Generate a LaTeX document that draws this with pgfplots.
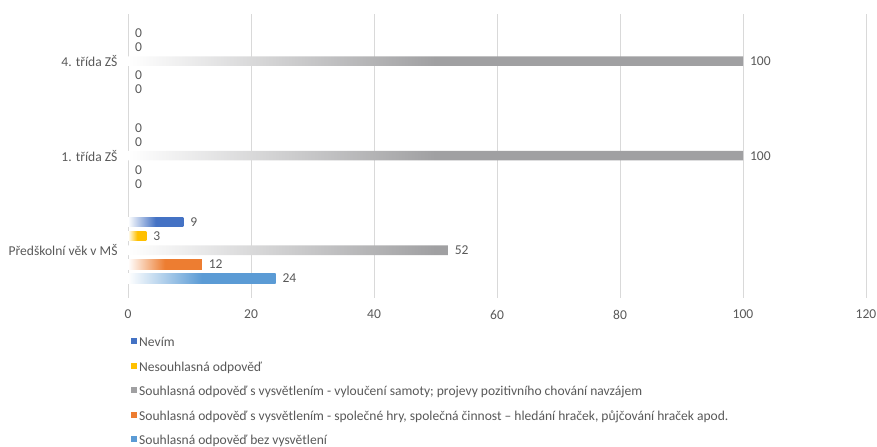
\documentclass[border=0pt]{standalone}
\usepackage{pgfplots}
\pgfplotsset{compat=1.18}
\usepackage{fontspec}
\setmainfont{Carlito}
\definecolor{cNev}{HTML}{4472C4}
\definecolor{cNes}{HTML}{FFC000}
\definecolor{cSam}{HTML}{A0A0A2}
\definecolor{cHry}{HTML}{ED7D31}
\definecolor{cBez}{HTML}{5B9BD5}
\definecolor{lbl}{HTML}{595959}
\definecolor{grd}{HTML}{D9D9D9}
\begin{document}
\begin{tikzpicture}
\path[use as bounding box] (0,0) rectangle (877bp,447bp);
\begin{axis}[
  at={(128bp,149.5bp)}, anchor=south west,
  scale only axis, width=738bp, height=283.5bp,
  xmin=0, xmax=120, ymin=-0.5, ymax=2.5,
  xtick={0,20,...,120}, ytick={0,1,2},
  yticklabels={Předškolní věk v MŠ, 1. třída ZŠ, 4. třída ZŠ},
  xmajorgrids, grid style={grd, line width=0.75bp},
  axis line style={draw=none}, major tick length=0pt,
  tick label style={font=\fontsize{13.6}{16}\selectfont, text=lbl},
  /pgf/number format/assume math mode=true,
  xticklabel style={yshift=-9bp},
  yticklabel style={xshift=-7bp},
  xbar, bar width=9.5bp,
  legend style={at={(0.0,-0.126)}, anchor=north west, draw=none,
    font=\fontsize{13.6}{16}\selectfont, text=lbl, row sep=9.6bp,
    /tikz/every even column/.append style={column sep=1bp}},
  legend cell align=left,
  legend image code/.code={\fill[#1, draw=none] (0bp,-1.5bp) rectangle (6bp,4.5bp);},
  lab/.style={forget plot, draw=none, fill=none, nodes near coords, point meta=x,
    nodes near coords style={font=\fontsize{13.6}{16}\selectfont, text=lbl, anchor=west, xshift=3.5bp}},
]
% shaded bars (non-zero values)
\addplot[forget plot, draw=none, bar shift=28bp, left color=white, right color=cNev, middle color=cNev] coordinates {(9,0)};
\addplot[forget plot, draw=none, bar shift=14bp, left color=white, right color=cNes, middle color=cNes] coordinates {(3,0)};
\addplot[forget plot, draw=none, bar shift=0bp, left color=white, right color=cSam, middle color=cSam] coordinates {(52,0) (100,1) (100,2)};
\addplot[forget plot, draw=none, bar shift=-14bp, left color=white, right color=cHry, middle color=cHry] coordinates {(12,0)};
\addplot[forget plot, draw=none, bar shift=-28bp, left color=white, right color=cBez, middle color=cBez] coordinates {(24,0)};
% value labels (all values)
\addplot[lab, bar shift=28bp] coordinates {(9,0) (0,1) (0,2)};
\addplot[lab, bar shift=14bp] coordinates {(3,0) (0,1) (0,2)};
\addplot[lab, bar shift=0bp] coordinates {(52,0) (100,1) (100,2)};
\addplot[lab, bar shift=-14bp] coordinates {(12,0) (0,1) (0,2)};
\addplot[lab, bar shift=-28bp] coordinates {(24,0) (0,1) (0,2)};
\addlegendimage{fill=cNev}\addlegendentry{Nevím}
\addlegendimage{fill=cNes}\addlegendentry{Nesouhlasná odpověď}
\addlegendimage{fill=cSam}\addlegendentry{Souhlasná odpověď s vysvětlením - vyloučení samoty; projevy pozitivního chování navzájem}
\addlegendimage{fill=cHry}\addlegendentry{Souhlasná odpověď s vysvětlením - společné hry, společná činnost – hledání hraček, půjčování hraček apod.}
\addlegendimage{fill=cBez}\addlegendentry{Souhlasná odpověď bez vysvětlení}
\end{axis}
\end{tikzpicture}
\end{document}
